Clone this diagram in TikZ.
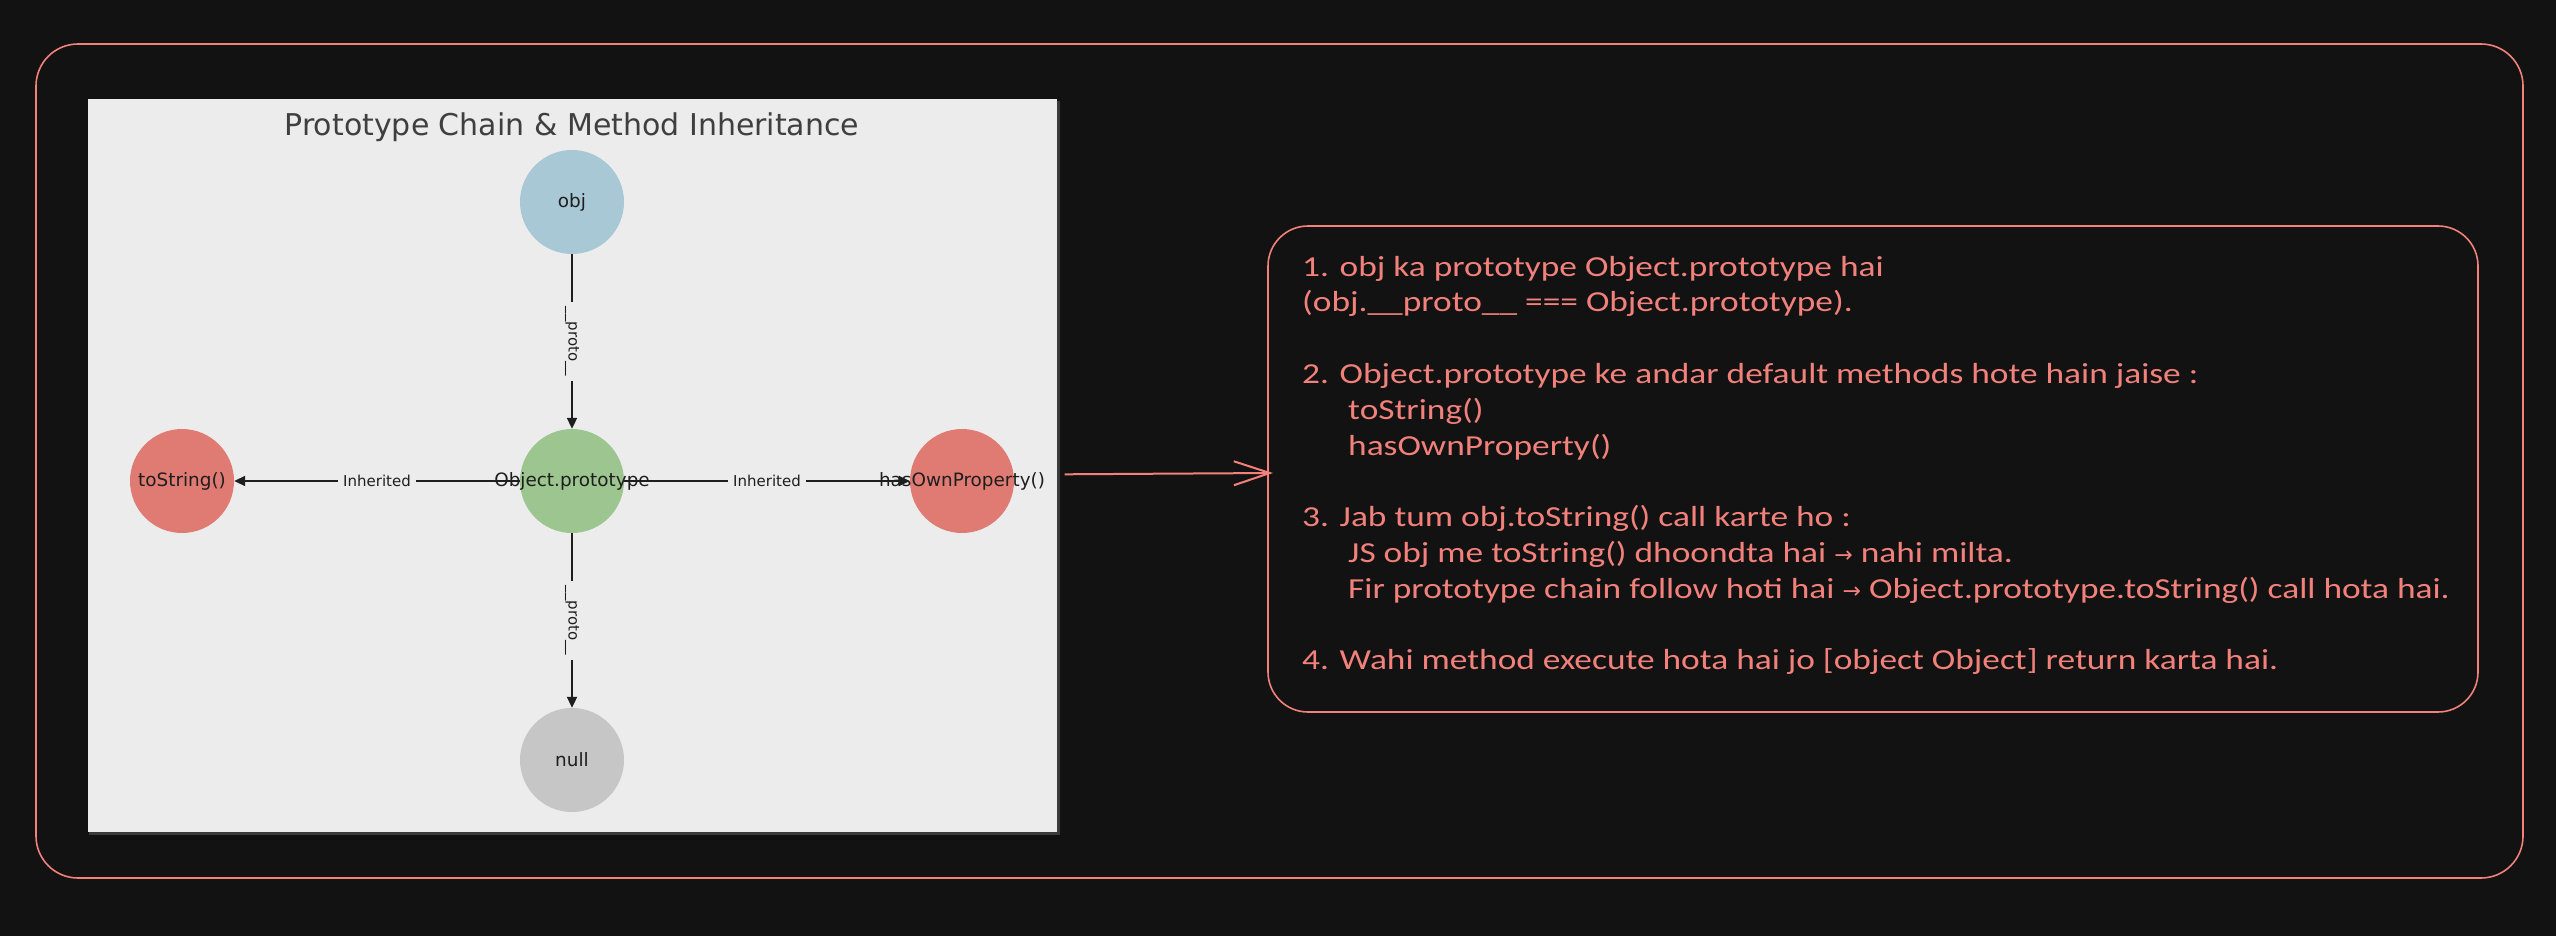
\documentclass[tikz,border=0pt]{standalone}
\usepackage{fontspec}
\setmainfont{DejaVu Sans}
\newfontfamily\handfont[FakeStretch=1.22]{Carlito}
\newfontfamily\symfont{DejaVu Sans}
\usetikzlibrary{arrows.meta,calc}
\definecolor{bgdark}{HTML}{121212}
\definecolor{salmon}{HTML}{F2817B}
\definecolor{panelbg}{HTML}{ECECEC}
\definecolor{panelsh}{HTML}{3A3A3A}
\definecolor{cblue}{HTML}{A9C8D6}
\definecolor{cgreen}{HTML}{9DC58F}
\definecolor{cred}{HTML}{E07B74}
\definecolor{cgray}{HTML}{C6C6C6}
\definecolor{edgecol}{HTML}{1E1E1E}
\definecolor{titlecol}{HTML}{3F3F3F}
\begin{document}
\begin{tikzpicture}[x=1pt,y=-1pt,
  ball/.style={circle, minimum size=104pt, inner sep=0pt, draw=none},
  balltext/.style={font=\fontsize{18.4}{22}\selectfont, text=edgecol, inner sep=0pt},
  linkarrow/.style={draw=edgecol, line width=2pt, -{Triangle[length=11pt,width=10pt]}},
  linklabel/.style={fill=panelbg, font=\fontsize{15}{18}\selectfont, text=edgecol, inner sep=5pt},
  notetext/.style={anchor=base west, inner sep=0pt, text=salmon, font=\handfont\fontsize{29}{35}\selectfont},
  sketchframe/.style={draw=salmon, line width=1.6pt, inner sep=0pt, outer sep=0pt}
]
\fill[bgdark] (0,0) rectangle (2556,936);
\useasboundingbox (0,0) rectangle (2556,936);

% outer frame
\node[sketchframe, rounded corners=42pt, minimum width=2487pt, minimum height=834pt] (outer) at (1279.5,461) {};

% panel
\fill[panelsh] (89,101) rectangle (1059.5,834.5);
\node[fill=panelbg, minimum width=968.5pt, minimum height=732.5pt, inner sep=0pt, outer sep=0pt] (panel) at (572.25,465.3) {};
\node[anchor=base, font=\fontsize{30}{36}\selectfont, text=titlecol] (title) at (572,136) {Prototype Chain \& Method Inheritance};

% circles
\node[ball, fill=cblue] (obj) at (572,202) {};
\node[ball, fill=cgreen] (op) at (572,481) {};
\node[ball, fill=cred] (ts) at (182,481) {};
\node[ball, fill=cred] (hop) at (962,481) {};
\node[ball, fill=cgray] (nul) at (572,760) {};

% edges
\draw[linkarrow] (obj) -- node[linklabel, rotate=-90] {\_\_proto\_\_} (op);
\draw[linkarrow] (op) -- node[linklabel] {Inherited} (ts);
\draw[linkarrow] (op) -- node[linklabel] {Inherited} (hop);
\draw[linkarrow] (op) -- node[linklabel, rotate=-90] {\_\_proto\_\_} (nul);

% circle texts
\node[balltext] at (obj) {obj};
\node[balltext] at (op) {Object.prototype};
\node[balltext] at (ts) {toString()};
\node[balltext] at (hop) {hasOwnProperty()};
\node[balltext] at (nul) {null};

% note box
\node[sketchframe, rounded corners=40pt, minimum width=1210pt, minimum height=486pt] (box) at (1873,469) {};
\draw[salmon, line width=2pt, -{Straight Barb[length=36pt,width=24pt]}] ($(panel.east)+(8,9)$) -- ($(box.west)+(5,4)$);

\node[notetext] (l1) at (1302,276) {1. obj ka prototype Object.prototype hai};
\node[notetext] (l2) at (1302,311.8) {(obj.\_\_proto\_\_ === Object.prototype).};
\node[notetext] (l3) at (1302,383.4) {2. Object.prototype ke andar default methods hote hain jaise :};
\node[notetext] (l4) at (1348,419.2) {toString()};
\node[notetext] (l5) at (1348,455) {hasOwnProperty()};
\node[notetext] (l6) at (1302,526.6) {3. Jab tum obj.toString() call karte ho :};
\node[notetext] (l7) at (1348,562.4) {JS obj me toString() dhoondta hai {\symfont\fontsize{22}{26}\selectfont →} nahi milta.};
\node[notetext] (l8) at (1348,598.2) {Fir prototype chain follow hoti hai {\symfont\fontsize{22}{26}\selectfont →} Object.prototype.toString() call hota hai.};
\node[notetext] (l9) at (1302,669.8) {4. Wahi method execute hota hai jo [object Object] return karta hai.};
\end{tikzpicture}
\end{document}
